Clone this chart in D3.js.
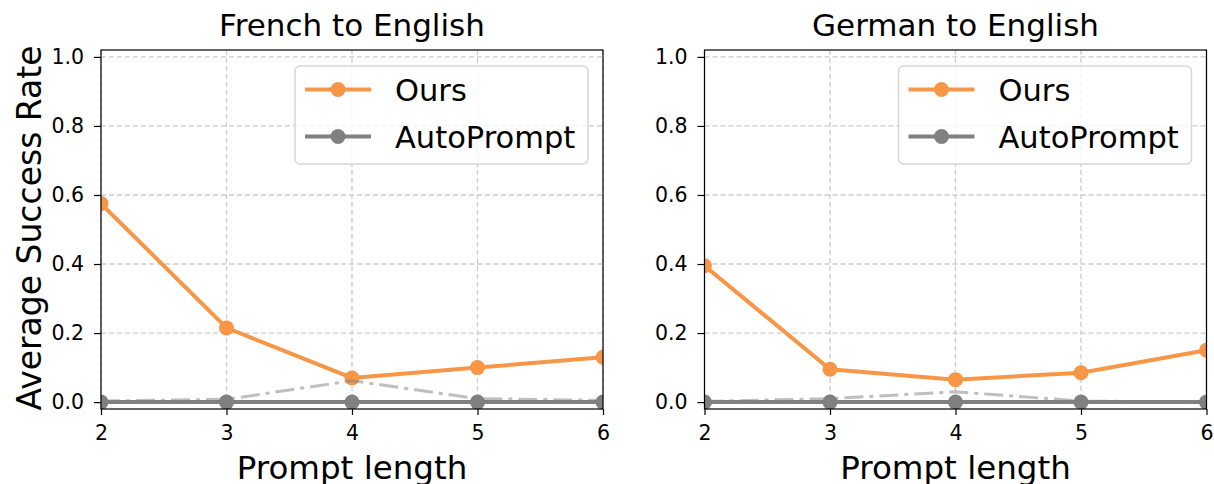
<!DOCTYPE html>
<html><head><meta charset="utf-8">
<script src="https://cdn.jsdelivr.net/npm/d3@7"></script>
<style>body{margin:0;background:#fff}svg{display:block}text{font-family:"DejaVu Sans",sans-serif}</style>
</head><body><svg id="c" width="1214" height="484"></svg>
<script>
const promptLengths = [2, 3, 4, 5, 6];
const yTicks = [0.0, 0.2, 0.4, 0.6, 0.8, 1.0];
const seriesNames = ["Ours", "AutoPrompt"];
const panelTitles = ["French to English", "German to English"];
const frOurs = [0.575, 0.215, 0.07, 0.10, 0.13];
const frAuto = [0, 0, 0, 0, 0];
const frAutoAlt = [0.003, 0.008, 0.062, 0.01, 0.005];
const deOurs = [0.395, 0.095, 0.065, 0.085, 0.15];
const deAuto = [0, 0, 0, 0, 0];
const deAutoAlt = [0.002, 0.01, 0.03, 0.003, 0.0];

const panels = [
  {title: panelTitles[0], ours: frOurs, auto: frAuto, alt: frAutoAlt, x0: 101, x1: 603, ylabel: true},
  {title: panelTitles[1], ours: deOurs, auto: deAuto, alt: deAutoAlt, x0: 704.5, x1: 1206.5, ylabel: false}
];
const orange = "#f79646", gray = "#808080";
const svg = d3.select("#c");
const plotTop = 50, plotBottom = 409;

panels.forEach((p, pi) => {
  const x = d3.scaleLinear().domain([2, 6]).range([p.x0, p.x1]);
  const y = d3.scaleLinear().domain([-0.02, 1.02]).range([plotBottom, plotTop]);
  const g = svg.append("g");
  g.append("g").selectAll("line").data(promptLengths).join("line")
    .attr("x1", d => x(d)).attr("x2", d => x(d)).attr("y1", plotTop).attr("y2", plotBottom)
    .attr("stroke", "#cccccc").attr("stroke-width", 1.3).attr("stroke-dasharray", "5,3");
  g.append("g").selectAll("line").data(yTicks).join("line")
    .attr("y1", d => y(d)).attr("y2", d => y(d)).attr("x1", p.x0).attr("x2", p.x1)
    .attr("stroke", "#cccccc").attr("stroke-width", 1.3).attr("stroke-dasharray", "5,3");

  const clip = "clip" + pi;
  svg.append("clipPath").attr("id", clip).append("rect")
    .attr("x", p.x0).attr("y", plotTop).attr("width", p.x1 - p.x0).attr("height", plotBottom - plotTop);
  const data = g.append("g").attr("clip-path", `url(#${clip})`);
  const line = d3.line().x((d, i) => x(promptLengths[i])).y(d => y(d));

  data.append("path").attr("d", line(p.auto)).attr("fill", "none")
    .attr("stroke", gray).attr("stroke-width", 4);
  data.append("g").selectAll("circle").data(p.auto).join("circle")
    .attr("cx", (d, i) => x(promptLengths[i])).attr("cy", d => y(d)).attr("r", 7.5).attr("fill", gray);
  data.append("path").attr("d", line(p.ours)).attr("fill", "none")
    .attr("stroke", orange).attr("stroke-width", 4);
  data.append("g").selectAll("circle").data(p.ours).join("circle")
    .attr("cx", (d, i) => x(promptLengths[i])).attr("cy", d => y(d)).attr("r", 7.5).attr("fill", orange);
  data.append("path").attr("d", line(p.alt)).attr("fill", "none")
    .attr("stroke", gray).attr("stroke-opacity", 0.5).attr("stroke-width", 3)
    .attr("stroke-dasharray", "19,6,4,6");

  g.append("rect").attr("x", p.x0).attr("y", plotTop).attr("width", p.x1 - p.x0).attr("height", plotBottom - plotTop)
    .attr("fill", "none").attr("stroke", "#000").attr("stroke-width", 1.2);

  const xa = g.append("g").attr("transform", `translate(0,${plotBottom})`)
    .call(d3.axisBottom(x).tickValues(promptLengths).tickSize(6).tickPadding(10).tickFormat(d3.format("d")));
  xa.select(".domain").remove();
  xa.selectAll("text").attr("font-size", 20.5).attr("fill", "#000");
  xa.selectAll("line").attr("stroke", "#000").attr("stroke-width", 1.2);
  const ya = g.append("g").attr("transform", `translate(${p.x0},0)`)
    .call(d3.axisLeft(y).tickValues(yTicks).tickSize(7).tickPadding(10).tickFormat(d3.format(".1f")));
  ya.select(".domain").remove();
  ya.selectAll("text").attr("font-size", 20.5).attr("fill", "#000");
  ya.selectAll("line").attr("stroke", "#000").attr("stroke-width", 1.2);

  g.append("text").attr("x", (p.x0 + p.x1) / 2).attr("y", 36).attr("text-anchor", "middle")
    .attr("font-size", 31).text(p.title);
  g.append("text").attr("x", (p.x0 + p.x1) / 2).attr("y", 479).attr("text-anchor", "middle")
    .attr("font-size", 32.5).text("Prompt length");
  if (p.ylabel) {
    g.append("text").attr("transform", `translate(41,${(plotTop + plotBottom) / 2 - 1.5}) rotate(-90)`)
      .attr("text-anchor", "middle").attr("font-size", 33).text("Average Success Rate");
  }

  const lx = p.x1 - 15 - 293, ly = 66;
  const lg = g.append("g").attr("transform", `translate(${lx},${ly})`);
  lg.append("rect").attr("width", 293).attr("height", 98).attr("rx", 5)
    .attr("fill", "#fff").attr("fill-opacity", 0.8).attr("stroke", "#d6d6d6").attr("stroke-width", 1.5);
  [orange, gray].forEach((c, i) => {
    const yy = 23.5 + i * 47;
    lg.append("line").attr("x1", 10).attr("x2", 76).attr("y1", yy).attr("y2", yy)
      .attr("stroke", c).attr("stroke-width", 4);
    lg.append("circle").attr("cx", 43).attr("cy", yy).attr("r", 7.5).attr("fill", c);
    lg.append("text").attr("x", 100).attr("y", yy + 11).attr("font-size", 30.5).text(seriesNames[i]);
  });
});
</script></body></html>
